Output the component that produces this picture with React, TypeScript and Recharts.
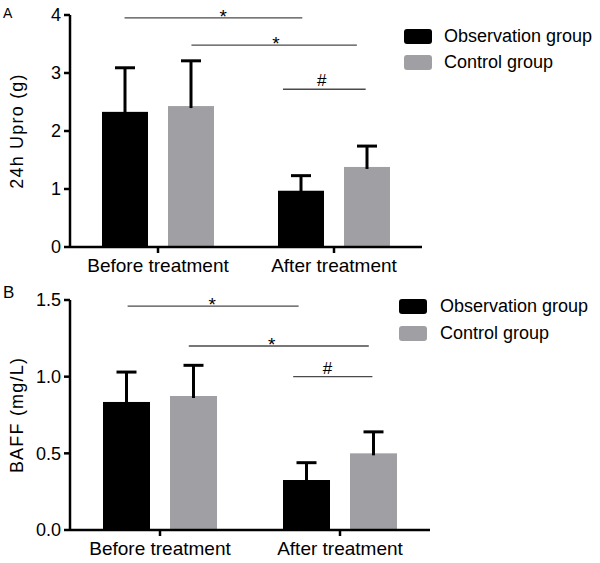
import { BarChart, Bar, XAxis, YAxis, Legend, ReferenceLine, ReferenceDot } from 'recharts';

// categories / series
const timepoints = ['Before treatment', 'After treatment'];
const seriesNames = ['Observation group', 'Control group'];

// 24h urinary protein (g), mean and SD
const uproObs = [2.33, 0.97];
const uproObsSd = [0.76, 0.26];
const uproCtrl = [2.43, 1.38];
const uproCtrlSd = [0.78, 0.36];
const uproTicks = [0, 1, 2, 3, 4];

// BAFF (mg/L), mean and SD
const baffObs = [0.835, 0.326];
const baffObsSd = [0.195, 0.113];
const baffCtrl = [0.874, 0.5];
const baffCtrlSd = [0.2, 0.14];
const baffTicks = [0, 0.5, 1.0, 1.5];

// significance brackets, x in category units (0..2), y in data units
const uproSig = [
  { from: 0.31, to: 1.32, y: 3.95, mark: '*', at: 0.87 },
  { from: 0.69, to: 1.63, y: 3.48, mark: '*', at: 1.17 },
  { from: 1.21, to: 1.68, y: 2.72, mark: '#', at: 1.43 },
];
const baffSig = [
  { from: 0.32, to: 1.27, y: 1.46, mark: '*', at: 0.79 },
  { from: 0.66, to: 1.66, y: 1.2, mark: '*', at: 1.12 },
  { from: 1.24, to: 1.68, y: 1.0, mark: '#', at: 1.43 },
];

const buildRows = (obs: number[], obsSd: number[], ctrl: number[], ctrlSd: number[]) =>
  timepoints.map((t, i) => ({ time: t, obs: obs[i], obsSd: obsSd[i], ctrl: ctrl[i], ctrlSd: ctrlSd[i] }));

const uproData = buildRows(uproObs, uproObsSd, uproCtrl, uproCtrlSd);
const baffData = buildRows(baffObs, baffObsSd, baffCtrl, baffCtrlSd);

const BLACK = '#000000';
const GREY = '#a0a0a4';
const FONT = '"Liberation Sans", Arial, Helvetica, sans-serif';
const N = timepoints.length;

// bar with upward-only error bar
const meanSdBar = (meanKey: string, sdKey: string) => (props: any) => {
  const { x, y, width, height, fill, payload } = props;
  const mean = payload[meanKey];
  const ppu = mean ? height / mean : 0;
  const top = y - payload[sdKey] * ppu;
  const cx = x + width / 2;
  return (
    <g>
      <rect x={x} y={y} width={width} height={height} fill={fill} />
      <line x1={cx} x2={cx} y1={y + 2} y2={top} stroke={BLACK} strokeWidth={3} />
      <line x1={cx - 10} x2={cx + 10} y1={top} y2={top} stroke={BLACK} strokeWidth={3} />
    </g>
  );
};

const legendContent = (rowH: number, gap: number) => (props: any) => {
  const items = [...(props.payload || [])].sort(
    (a: any, b: any) => seriesNames.indexOf(a.value) - seriesNames.indexOf(b.value)
  );
  return (
    <div>
      {items.map((p: any) => (
        <div key={p.value} style={{ display: 'flex', alignItems: 'center', height: rowH }}>
          <span style={{ display: 'inline-block', width: 28, height: 15, background: p.color, borderRadius: 3, marginRight: gap }} />
          <span style={{ fontSize: 18, color: '#000', whiteSpace: 'nowrap' }}>{p.value}</span>
        </div>
      ))}
    </div>
  );
};

interface PanelProps {
  data: any[];
  ticks: number[];
  yMax: number;
  yLabel: string;
  sig: { from: number; to: number; y: number; mark: string; at: number }[];
  height: number;
  margin: { top: number; right: number; bottom: number; left: number };
  barSize: number;
  decimals: number;
  legendTop: number;
  legendLeft: number;
  legendRow: number;
  legendGap: number;
}

function Panel(p: PanelProps) {
  return (
    <BarChart width={600} height={p.height} data={p.data} margin={p.margin} barSize={p.barSize} barGap={20}>
      <XAxis
        dataKey="time"
        height={30}
        tickSize={6}
        tickMargin={6}
        axisLine={{ stroke: BLACK, strokeWidth: 2.5 }}
        tickLine={{ stroke: BLACK, strokeWidth: 2.5 }}
        tick={{ fill: BLACK, fontSize: 19 }}
      />
      <XAxis xAxisId="pos" type="number" domain={[0, 1]} allowDataOverflow hide />
      <YAxis
        width={70}
        domain={[0, p.yMax]}
        ticks={p.ticks}
        interval={0}
        tickSize={6}
        tickMargin={3}
        tickFormatter={(v: number) => v.toFixed(p.decimals)}
        axisLine={{ stroke: BLACK, strokeWidth: 2.5 }}
        tickLine={{ stroke: BLACK, strokeWidth: 2.5 }}
        tick={{ fill: BLACK, fontSize: 18 }}
        label={{
          value: p.yLabel,
          angle: -90,
          position: 'insideLeft',
          offset: 17,
          style: { textAnchor: 'middle', fill: BLACK, fontSize: 18, letterSpacing: 1.2 },
        }}
      />
      <Legend
        layout="horizontal"
        verticalAlign="middle"
        align="center"
        wrapperStyle={{ top: p.legendTop, left: p.legendLeft, width: 'auto' }}
        content={legendContent(p.legendRow, p.legendGap)}
      />
      <Bar dataKey="obs" name={seriesNames[0]} fill={BLACK} isAnimationActive={false} shape={meanSdBar('obs', 'obsSd')} />
      <Bar dataKey="ctrl" name={seriesNames[1]} fill={GREY} isAnimationActive={false} shape={meanSdBar('ctrl', 'ctrlSd')} />
      {p.sig.map((s, i) => (
        <ReferenceLine
          key={'l' + i}
          xAxisId="pos"
          segment={[{ x: s.from / N, y: s.y }, { x: s.to / N, y: s.y }]}
          stroke="#4a4a4a"
          strokeWidth={1.3}
          ifOverflow="visible"
        />
      ))}
      {p.sig.map((s, i) => (
        <ReferenceDot
          key={'d' + i}
          xAxisId="pos"
          x={s.at / N}
          y={s.y}
          r={0}
          fill="none"
          stroke="none"
          ifOverflow="visible"
          label={{
            value: s.mark,
            position: 'top',
            offset: s.mark === '#' ? 3 : -5,
            fill: BLACK,
            fontSize: s.mark === '#' ? 17 : 19,
          }}
        />
      ))}
    </BarChart>
  );
}

export default function App() {
  return (
    <div style={{ position: 'absolute', left: 0, top: 0, width: 600, height: 563, background: '#fff', fontFamily: FONT }}>
      <div style={{ position: 'absolute', left: 3, top: 6, fontSize: 14, lineHeight: '14px' }}>A</div>
      <div style={{ position: 'absolute', left: 3, top: 284, fontSize: 17, lineHeight: '17px' }}>B</div>
      <div style={{ position: 'absolute', left: 0, top: 0 }}>
        <Panel
          data={uproData}
          ticks={uproTicks}
          yMax={4}
          yLabel="24h Upro (g)"
          sig={uproSig}
          height={280}
          margin={{ top: 15, right: 178, bottom: 3, left: 0 }}
          barSize={46}
          decimals={0}
          legendTop={23}
          legendLeft={404}
          legendRow={26}
          legendGap={12}
        />
      </div>
      <div style={{ position: 'absolute', left: 0, top: 280 }}>
        <Panel
          data={baffData}
          ticks={baffTicks}
          yMax={1.5}
          yLabel="BAFF (mg/L)"
          sig={baffSig}
          height={283}
          margin={{ top: 20, right: 170, bottom: 3, left: 0 }}
          barSize={47}
          decimals={1}
          legendTop={13}
          legendLeft={399}
          legendRow={27}
          legendGap={13}
        />
      </div>
    </div>
  );
}
